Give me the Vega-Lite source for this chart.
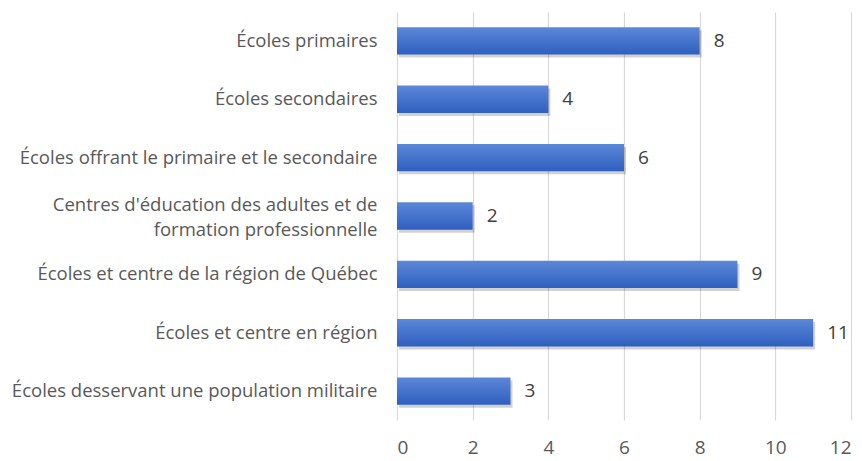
{
  "$schema": "https://vega.github.io/schema/vega-lite/v6.json",
  "width": 454,
  "height": 408,
  "autosize": {"type": "none"},
  "padding": {"left": 397, "top": 12, "right": 11, "bottom": 41},
  "background": "white",
  "config": {"view": {"stroke": null}, "font": "Open Sans"},
  "data": {
    "values": [
      {"cat": "Écoles primaires", "n": 8},
      {"cat": "Écoles secondaires", "n": 4},
      {"cat": "Écoles offrant le primaire et le secondaire", "n": 6},
      {"cat": "Centres d'éducation des adultes et de|formation professionnelle", "n": 2},
      {"cat": "Écoles et centre de la région de Québec", "n": 9},
      {"cat": "Écoles et centre en région", "n": 11},
      {"cat": "Écoles desservant une population militaire", "n": 3}
    ]
  },
  "encoding": {
    "y": {
      "field": "cat", "type": "nominal", "sort": null,
      "scale": {"paddingInner": 0.53, "paddingOuter": 0.26},
      "axis": {
        "title": null, "domain": false, "ticks": false, "labelPadding": 20,
        "labelExpr": "split(datum.value, '|')",
        "labelFontSize": 18.5, "labelColor": "#595959", "labelLimit": 400, "labelLineHeight": 25,
        "labelOffset": {"expr": "indexof(datum.value, '|') >= 0 ? -11 : 0"}
      }
    },
    "x": {
      "field": "n", "type": "quantitative",
      "scale": {"domain": [0, 12]},
      "axis": {
        "title": null, "values": [0, 2, 4, 6, 8, 10, 12], "labelOverlap": false,
        "domain": false, "ticks": false, "gridColor": "#d9d9d9", "gridWidth": 1.2,
        "labelFontSize": 19, "labelColor": "#595959", "labelPadding": 18
      }
    }
  },
  "layer": [
    {
      "mark": {"type": "bar", "color": "#000000", "opacity": 0.18, "xOffset": 2, "yOffset": 3}
    },
    {
      "mark": {
        "type": "bar",
        "color": {
          "gradient": "linear", "x1": 0, "y1": 0, "x2": 0, "y2": 1,
          "stops": [{"offset": 0, "color": "#5c88d8"}, {"offset": 1, "color": "#2f5fc0"}]
        }
      }
    },
    {
      "mark": {"type": "text", "align": "left", "dx": 14, "fontSize": 19, "color": "#404040"},
      "encoding": {"text": {"field": "n", "type": "quantitative"}}
    }
  ]
}
